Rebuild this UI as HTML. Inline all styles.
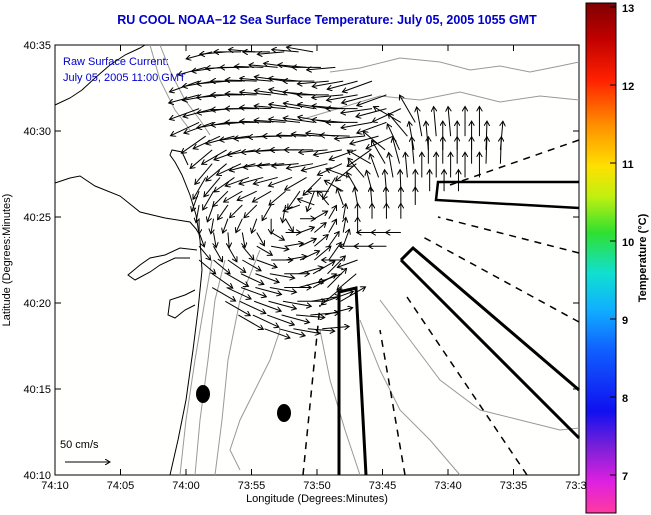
<!DOCTYPE html>
<html><head><meta charset="utf-8">
<style>
body{margin:0;background:#fff;}
svg{display:block;font-family:"Liberation Sans",sans-serif;}
</style></head>
<body>
<svg id="chart" width="651" height="515" viewBox="0 0 651 515">
<defs>
<linearGradient id="cb" x1="0" y1="1" x2="0" y2="0">
<stop offset="0" stop-color="#ff3aa0"/>
<stop offset="0.06" stop-color="#e020e0"/>
<stop offset="0.13" stop-color="#7a20d8"/>
<stop offset="0.2" stop-color="#1010f0"/>
<stop offset="0.32" stop-color="#1060ff"/>
<stop offset="0.4" stop-color="#10b0ff"/>
<stop offset="0.47" stop-color="#10e0d0"/>
<stop offset="0.55" stop-color="#30e030"/>
<stop offset="0.62" stop-color="#c0f010"/>
<stop offset="0.68" stop-color="#ffe000"/>
<stop offset="0.76" stop-color="#ff9000"/>
<stop offset="0.85" stop-color="#ff2000"/>
<stop offset="0.93" stop-color="#c00000"/>
<stop offset="1" stop-color="#800000"/>
</linearGradient>
<marker id="ah" markerWidth="6" markerHeight="6" refX="5" refY="3" orient="auto" markerUnits="userSpaceOnUse"><path d="M0,0 L5,3 L0,6" fill="none" stroke="#000" stroke-width="1"/></marker>
</defs>
<text x="327" y="24" text-anchor="middle" font-size="12.5" font-weight="bold" fill="#0000cc">RU COOL  NOAA−12  Sea Surface Temperature:  July 05, 2005 1055 GMT</text>
<rect x="55" y="45" width="524" height="430" fill="#fffffd" stroke="#000" stroke-width="1"/>
<g id="contours" fill="none" stroke="#999" stroke-width="1">
<path d="M330,72 L360,68 L400,58 L440,62 L470,70 L500,66 L530,72 L560,66 L579,62"/>
<path d="M300,120 L340,108 L380,96 L420,100 L460,92 L500,102 L540,96 L579,100"/>
<path d="M160,45 L172,75 L185,100 L200,120 L210,135"/>
<path d="M150,45 L160,80 L175,110 L190,130"/>
<path d="M180,475 L186,420 L195,360 L205,300 L212,260"/>
<path d="M195,475 L200,420 L208,360 L215,300 L225,260"/>
<path d="M215,475 L222,420 L228,360 L240,300 L260,250"/>
<path d="M280,330 L270,360 L255,390 L240,420 L230,450 L240,470"/>
<path d="M320,330 L330,380 L345,430 L360,475"/>
<path d="M360,320 L380,370 L400,410 L430,440 L460,475"/>
<path d="M380,300 L410,340 L440,380 L480,410 L520,420 L560,430 L579,428"/>
</g>
<g id="coast" fill="none" stroke="#000" stroke-width="1">
<path d="M170,475 L178,440 L186,400 L193,350 L198,310 L202,270 L200,240 L196,215 L190,195 L182,175 L175,162 L170,155 L172,150 L182,152 L188,165"/>
<path d="M55,105 L70,98 L82,90 L95,78 L110,65 L125,55 L140,48 L145,45"/>
<path d="M55,183 L70,178 L80,176 L95,186 L120,196 L140,212 L165,218 L190,222 L197,230"/>
<path d="M197,250 L180,248 L165,255 L150,258 L140,265 L128,275 L135,280 L150,272 L160,265 L175,258 L190,258"/>
<path d="M195,290 L185,295 L170,300 L168,315 L175,318 L185,310 L195,305"/>
</g>
<g id="transects" fill="none" stroke="#000">
<path d="M339,475 L339,292 L356,288 L366,475" stroke-width="3"/>
<path d="M401,260 L413,248 L579,390 M401,260 L579,438" stroke-width="3"/>
<path d="M579,182 L438,182 L436,200 L579,208" stroke-width="2.5"/>
<g stroke-width="1.5" stroke-dasharray="7,6">
<path d="M303,475 L320,305"/>
<path d="M405,475 L380,330"/>
<path d="M527,475 L407,297"/>
<path d="M579,322 L423,237"/>
<path d="M579,253 L438,217"/>
<path d="M579,140 L450,185"/>
</g>
</g>
<ellipse cx="203" cy="394" rx="7" ry="9" fill="#000"/>
<ellipse cx="284" cy="413" rx="7" ry="9" fill="#000"/>
<g id="vectors"></g>
<text x="63" y="65" font-size="11" fill="#0000cc">Raw Surface Current:</text>
<text x="63" y="81" font-size="11" fill="#0000cc">July 05, 2005 11:00 GMT</text>
<text x="60" y="448" font-size="11" fill="#000">50 cm/s</text>
<g id="scalearrow"></g>
<g id="xaxis"></g>
<g id="yaxis"></g>
<text x="317" y="502" text-anchor="middle" font-size="11">Longitude (Degrees:Minutes)</text>
<text transform="translate(10,260) rotate(-90)" text-anchor="middle" font-size="11">Latitude (Degrees:Minutes)</text>
<rect x="586" y="3" width="30" height="510" fill="url(#cb)" stroke="#000" stroke-width="1"/>
<g id="cbaxis"></g>
<text transform="translate(646,258) rotate(-90)" text-anchor="middle" font-size="11" font-weight="bold">Temperature (°C)</text>
</svg>
<script>
const xTickLabels=["74:10","74:05","74:00","73:55","73:50","73:45","73:40","73:35","73:30"];
const xTickMins=[0,5,10,15,20,25,30,35,40];
const yTickLabels=["40:10","40:15","40:20","40:25","40:30","40:35"];
const yTickMins=[10,15,20,25,30,35];
const cbTicks=[7,8,9,10,11,12,13];
// current vector rows: latitude (min), starting longitude (min east of 74:10), direction (deg, math convention) per grid cell, row speed (cm/s)
const rowLat=[34.6,33.7,32.9,32.1,31.3,30.5,29.7,28.9,28.1,27.3,26.5,25.7,24.9,24.1,23.3,22.5,21.7,20.9,20.1,19.3,18.5];
const rowStart=[12,11.5,11,11,11,11,11.5,12,12,11.5,11,11,11,11,11,11,12,12,13,14,16];
const rowDirs=[
[195,185,180,175,180,185,175,170],
[195,188,182,180,178,175,172,175,180,185],
[200,190,185,180,178,175,172,175,180,185,190,195,200],
[195,190,185,180,178,175,172,170,175,180,185,190,195,200],
[200,195,188,182,180,178,175,172,170,172,175,180,188,195,205],
[205,200,190,185,180,178,176,174,172,170,175,180,190,200,150,120],
[215,205,195,188,185,182,180,178,176,174,178,185,195,205,130,100,95,95,90,90],
[220,210,200,190,185,183,180,180,185,190,200,215,140,115,100,95,90,90,90,88,85],
[230,220,205,195,188,185,185,190,195,205,220,150,120,105,95,90,90,90,90,88,88],
[240,230,215,200,195,195,200,210,225,240,160,130,110,100,95,90,90,90,90,90],
[250,240,225,210,205,210,220,235,250,180,150,120,105,95,92,90,90,90,90],
[260,250,235,225,225,240,260,200,160,130,110,100,95,92,90,90],
[270,260,250,245,250,270,300,0,30,60,80,90,90,90,90],
[290,280,275,280,300,330,0,20,40,60,80,90,180,180,180],
[310,300,300,310,330,350,10,25,40,55,70,180,180,180],
[320,320,325,330,340,0,10,25,40,55,180,200],
[325,330,335,340,350,0,15,30,45,200,220],
[330,335,340,345,350,0,15,30,45,220],
[330,335,340,345,350,0,10,20,30],
[330,335,340,345,355,5,15],
[340,345,350,355,5]];
const rowSpeed=[30,32,35,35,35,35,33,32,30,28,24,20,17,17,20,24,28,30,32,32,30];
const NS="http://www.w3.org/2000/svg";
const lonStep=1.1;
function xS(m){return 55+m*13.1;}
function yS(l){return 475-(l-10)*17.2;}
function cS(t){return 475-(t-7)*78;}
const pxPerCm=45/50;
const vg=document.getElementById('vectors');
rowLat.forEach((lat,r)=>{
  rowDirs[r].forEach((d,k)=>{
    const m=rowStart[r]+k*lonStep;
    const x0=xS(m),y0=yS(lat);
    const a=d*Math.PI/180, s=rowSpeed[r]*pxPerCm;
    const l=document.createElementNS(NS,'line');
    l.setAttribute('x1',x0);l.setAttribute('y1',y0);
    l.setAttribute('x2',x0+Math.cos(a)*s);l.setAttribute('y2',y0-Math.sin(a)*s);
    l.setAttribute('stroke','#000');l.setAttribute('stroke-width','1');
    l.setAttribute('marker-end','url(#ah)');
    
    
    vg.appendChild(l);
  });
});
const sa=document.createElementNS(NS,'line');
sa.setAttribute('x1',65);sa.setAttribute('y1',462);sa.setAttribute('x2',65+50*pxPerCm);sa.setAttribute('y2',462);
sa.setAttribute('stroke','#000');sa.setAttribute('marker-end','url(#ah)');


document.getElementById('scalearrow').appendChild(sa);
const xg=document.getElementById('xaxis');
xTickMins.forEach((m,i)=>{
  const x=xS(m);
  const t=document.createElementNS(NS,'path');
  t.setAttribute('d',`M${x},475 L${x},469 M${x},45 L${x},51`);t.setAttribute('stroke','#000');
  
  
  xg.appendChild(t);
  const tx=document.createElementNS(NS,'text');
  tx.setAttribute('x',x);tx.setAttribute('y',489);tx.setAttribute('text-anchor','middle');tx.setAttribute('font-size','11');
  tx.textContent=xTickLabels[i];
  
  
  xg.appendChild(tx);
});
const yg=document.getElementById('yaxis');
yTickMins.forEach((m,i)=>{
  const y=yS(m);
  const t=document.createElementNS(NS,'path');
  t.setAttribute('d',`M55,${y} L61,${y} M579,${y} L573,${y}`);t.setAttribute('stroke','#000');
  
  
  yg.appendChild(t);
  const tx=document.createElementNS(NS,'text');
  tx.setAttribute('x',51);tx.setAttribute('y',y+4);tx.setAttribute('text-anchor','end');tx.setAttribute('font-size','11');
  tx.textContent=yTickLabels[i];
  
  
  yg.appendChild(tx);
});
const cg=document.getElementById('cbaxis');
cbTicks.forEach(v=>{
  const y=cS(v);
  const t=document.createElementNS(NS,'path');
  t.setAttribute('d',`M616,${y} L610,${y}`);t.setAttribute('stroke','#000');
  
  
  cg.appendChild(t);
  const tx=document.createElementNS(NS,'text');
  tx.setAttribute('x',622);tx.setAttribute('y',y+5);tx.setAttribute('font-size','11');tx.setAttribute('font-weight','bold');
  tx.textContent=v;
  
  
  cg.appendChild(tx);
});
</script>
</body></html>
